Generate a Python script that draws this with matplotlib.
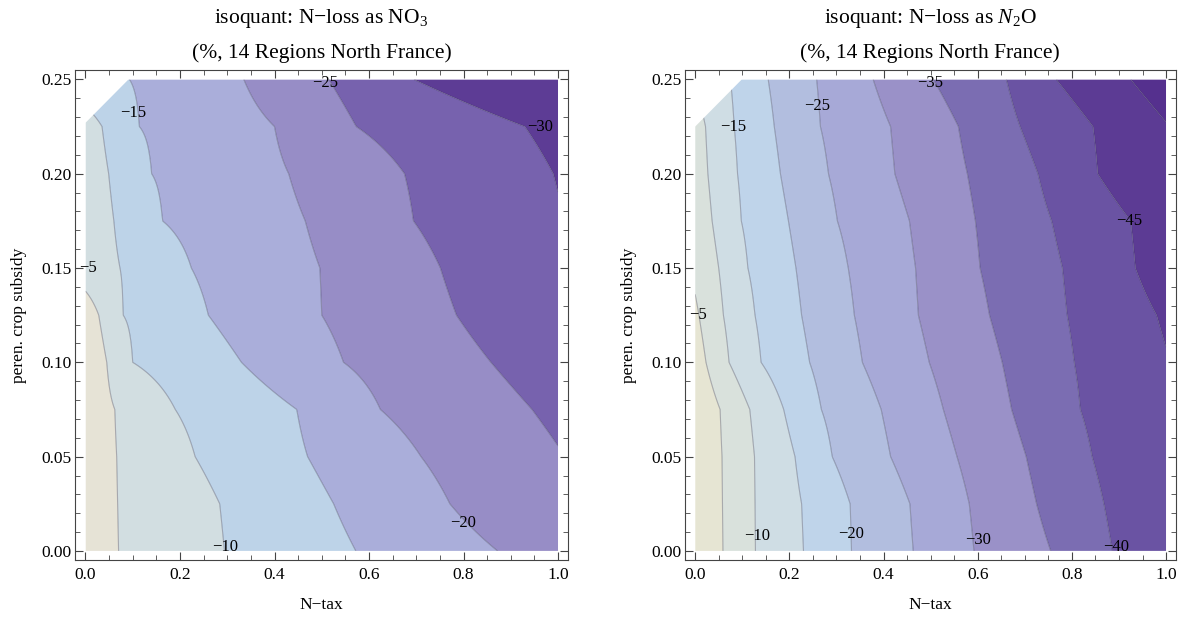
import numpy as np
import matplotlib
matplotlib.use("Agg")
import matplotlib.pyplot as plt
from matplotlib.patches import Polygon
from matplotlib.ticker import MultipleLocator

nan = np.nan

# perennial-crop-subsidy rows at which the isoquant positions were read
subsidy_rows = [0.0, 0.025, 0.05, 0.075, 0.10, 0.125, 0.15, 0.175, 0.20, 0.225, 0.25]

# ---------------- NO3 panel: N-tax where each isoquant crosses each row ----------------
no3_levels = [-5, -10, -15, -20, -25, -30]
no3_m5 = [0.070, 0.068, 0.066, 0.062, 0.045, 0.028, nan, nan, nan, nan, nan]
no3_m10 = [0.294, 0.284, 0.232, 0.190, 0.100, 0.080, 0.073, 0.060, 0.049, 0.035, nan]
no3_m15 = [0.572, 0.525, 0.470, 0.447, 0.330, 0.260, 0.224, 0.163, 0.140, 0.114, 0.093]
no3_m20 = [0.872, 0.771, 0.710, 0.624, 0.546, 0.500, 0.496, 0.465, 0.430, 0.400, 0.335]
no3_m25 = [nan, nan, nan, 0.945, 0.858, 0.785, 0.751, 0.694, 0.675, 0.573, 0.515]
no3_m30 = [nan, nan, nan, nan, nan, nan, nan, nan, 0.990, 0.930, 0.695]
no3_corner = [0.227, 0.091]   # cut corner: subsidy at N-tax 0, N-tax at subsidy 0.25
no3_label_x = [0.006, 0.295, 0.101, 0.800, 0.507, 0.961]
no3_label_y = [0.150, 0.002, 0.232, 0.015, 0.248, 0.225]

# ---------------- N2O panel ----------------
n2o_levels = [-5, -10, -15, -20, -25, -30, -35, -40, -45, -50]
n2o_m5 = [0.059, 0.058, 0.057, 0.053, 0.023, 0.008, nan, nan, nan, nan, nan]
n2o_m10 = [0.128, 0.127, 0.126, 0.116, 0.072, 0.060, 0.050, 0.036, 0.027, 0.022, nan]
n2o_m15 = [0.230, 0.226, 0.212, 0.188, 0.140, 0.127, 0.112, 0.098, 0.090, 0.083, 0.075]
n2o_m20 = [0.332, 0.329, 0.291, 0.268, 0.243, 0.226, 0.214, 0.198, 0.181, 0.168, 0.155]
n2o_m25 = [0.463, 0.456, 0.415, 0.395, 0.355, 0.338, 0.325, 0.302, 0.283, 0.266, 0.258]
n2o_m30 = [0.592, 0.582, 0.556, 0.527, 0.497, 0.474, 0.468, 0.455, 0.424, 0.415, 0.378]
n2o_m35 = [0.755, 0.725, 0.703, 0.672, 0.652, 0.625, 0.605, 0.595, 0.578, 0.559, 0.506]
n2o_m40 = [0.886, 0.868, 0.843, 0.818, 0.805, 0.790, 0.780, 0.757, 0.728, 0.690, 0.661]
n2o_m45 = [nan, nan, nan, nan, nan, 0.980, 0.935, 0.925, 0.855, 0.845, 0.767]
n2o_m50 = [nan, nan, nan, nan, nan, nan, nan, nan, nan, nan, 0.925]
n2o_corner = [0.225, 0.099]
n2o_label_x = [0.006, 0.131, 0.081, 0.332, 0.258, 0.601, 0.499, 0.894, 0.922]
n2o_label_y = [0.125, 0.008, 0.225, 0.009, 0.236, 0.006, 0.248, 0.002, 0.175]

# band colours, from the lowest band to the highest
no3_colors = ['#5d3c95', '#7762ae', '#978dc6', '#aaaeda', '#bdd3e8', '#d2dee1', '#e6e3d6']
n2o_colors = ['#55308e', '#5c3b94', '#6a53a3', '#7b6db2', '#9a91c8', '#a7a9d7',
              '#b2bedf', '#bfd4ea', '#cfdde4', '#d9e1dc', '#e6e5d3']

serif = 'Liberation Serif'
plt.rcParams['font.family'] = serif
plt.rcParams['mathtext.fontset'] = 'custom'
plt.rcParams['mathtext.rm'] = serif
plt.rcParams['mathtext.it'] = serif + ':italic'


def build_field(levels, crossings, xgrid, frac=0.95):
    step = abs(levels[1] - levels[0])
    Z = np.empty((len(subsidy_rows), len(xgrid)))
    for i in range(len(subsidy_rows)):
        pts = [(c[i], lv) for c, lv in zip(crossings, levels) if not np.isnan(c[i])]
        xs = [p[0] for p in pts]
        vs = [float(p[1]) for p in pts]
        sl = (vs[1] - vs[0]) / (xs[1] - xs[0])
        left = vs[0] - sl * xs[0]
        sr = (vs[-1] - vs[-2]) / (xs[-1] - xs[-2])
        right = vs[-1] + sr * (1 - xs[-1])
        left = np.clip(left, vs[0], vs[0] + frac * step)
        right = np.clip(right, vs[-1] - frac * step, vs[-1])
        Z[i] = np.interp(xgrid, [0.0] + xs + [1.0], [left] + vs + [right])
    return Z


def fmt(v):
    return '\u2212%d' % abs(v)


fig = plt.figure(figsize=(11.82, 6.19), dpi=100)
ax1 = fig.add_axes([75 / 1182, 59 / 619, 493 / 1182, 490 / 619])
ax2 = fig.add_axes([684.7 / 1182, 59 / 619, 491.3 / 1182, 490 / 619])

panels = [
    (ax1, no3_levels, [no3_m5, no3_m10, no3_m15, no3_m20, no3_m25, no3_m30], no3_colors,
     no3_corner, no3_label_x, no3_label_y, no3_levels, 'isoquant: N\u2212loss as NO$_3$'),
    (ax2, n2o_levels, [n2o_m5, n2o_m10, n2o_m15, n2o_m20, n2o_m25, n2o_m30, n2o_m35,
                       n2o_m40, n2o_m45, n2o_m50], n2o_colors,
     n2o_corner, n2o_label_x, n2o_label_y, n2o_levels[:-1], 'isoquant: N\u2212loss as $N_2$O'),
]

xgrid = np.linspace(0, 1, 501)
for ax, levels, crossings, colors, corner, lx, ly, lab_levels, title in panels:
    Z = build_field(levels, crossings, xgrid)
    bounds = [-500] + sorted(levels) + [500]
    dom = Polygon([(0, 0), (1, 0), (1, 0.25), (corner[1], 0.25), (0, corner[0])],
                  closed=True, transform=ax.transData)
    cf = ax.contourf(xgrid, subsidy_rows, Z, levels=bounds, colors=colors, antialiased=True)
    cf.set_clip_path(dom)
    cl = ax.contour(xgrid, subsidy_rows, Z, levels=sorted(levels),
                    colors=[(0.2, 0.2, 0.3, 0.35)], linewidths=0.8, linestyles='solid')
    cl.set_clip_path(dom)
    for x, y, v in zip(lx, ly, lab_levels):
        ax.text(x, y, fmt(v), ha='center', va='center', fontsize=12, color='black')

    ax.set_xlim(-0.0222, 1.021)
    ax.set_ylim(-0.0048, 0.255)
    ax.xaxis.set_major_locator(MultipleLocator(0.2))
    ax.xaxis.set_minor_locator(MultipleLocator(0.05))
    ax.yaxis.set_major_locator(MultipleLocator(0.05))
    ax.yaxis.set_minor_locator(MultipleLocator(0.01))
    ax.xaxis.set_major_formatter(matplotlib.ticker.FormatStrFormatter('%.1f'))
    ax.yaxis.set_major_formatter(matplotlib.ticker.FormatStrFormatter('%.2f'))
    ax.tick_params(which='both', direction='in', top=True, right=True, color='#444444')
    ax.tick_params(which='major', length=6, width=0.8, labelsize=12.5, pad=5)
    ax.tick_params(which='minor', length=3.5, width=0.6)
    ax.tick_params(axis='y', which='major', pad=2.5)
    for sp in ax.spines.values():
        sp.set_color('#444444')
        sp.set_linewidth(0.8)
    ax.set_xlabel('N\u2212tax', fontsize=12.5, labelpad=10)
    ax.set_ylabel('peren. crop subsidy', fontsize=12.5, labelpad=10)
    ax.text(0.5, 1.105, title, transform=ax.transAxes, ha='center', va='center', fontsize=15.5)
    ax.text(0.5, 1.035, '(%, 14 Regions North France)', transform=ax.transAxes,
            ha='center', va='center', fontsize=15.5)

fig.savefig('out.png', dpi=100)
